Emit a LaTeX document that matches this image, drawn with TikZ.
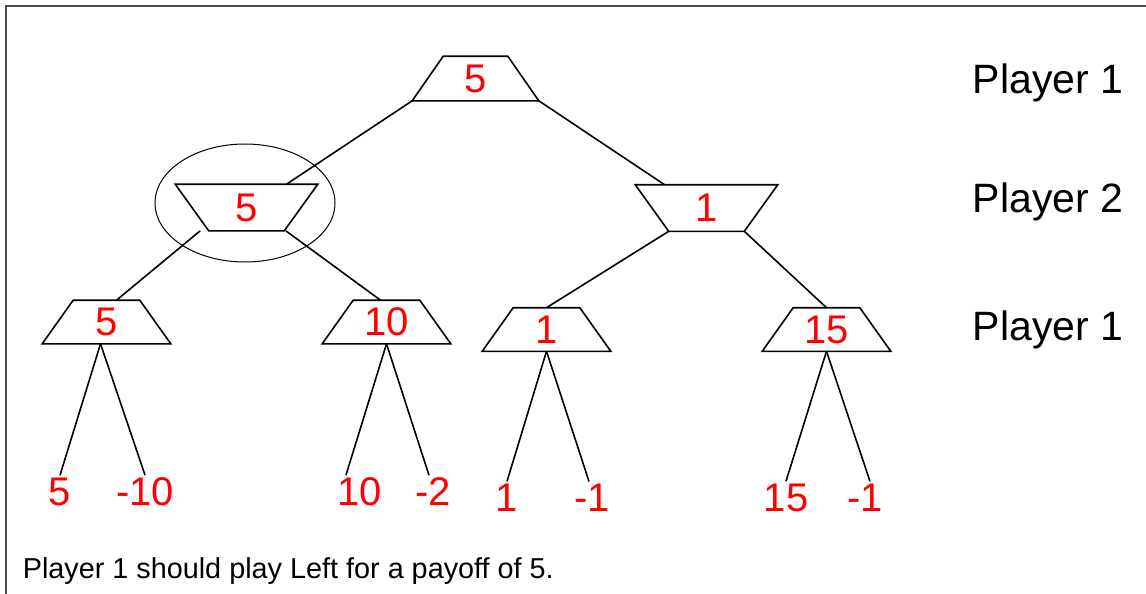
\documentclass[tikz,border=0pt]{standalone}
\usepackage{fontspec}
\setmainfont{Liberation Sans}
\usepackage{xcolor}

\begin{document}
\begin{tikzpicture}[x=0.5pt, y=-0.5pt, line width=0.8pt,
  maxnode/.style={minimum width=63.5pt, minimum height=21pt,
    inner sep=0pt, text=red, font=\fontsize{20}{24}\selectfont},
  minnode/.style={maxnode, minimum width=70.5pt, minimum height=22.5pt},
  payoff/.style={inner sep=1pt, text=red, font=\fontsize{20}{24}\selectfont},
  player/.style={anchor=base west, inner sep=0pt, font=\fontsize{20.5}{24}\selectfont}]

\useasboundingbox (0,0) rectangle (1146,594);

% Frame
\draw[black!70] (1146,6) -- (6,6) -- (6,594);

\node[maxnode, minimum width=62.5pt, minimum height=21.5pt] (root) at (475.5,78.5) {5};

\node[minnode] (p2l) at (246.5,207.5) {5};
\node[minnode] (p2r) at (706.5,208) {1};

\node[maxnode] (a) at (106.5,322) {5};
\node[maxnode] (b) at (386.5,322) {10};
\node[maxnode] (c) at (546.5,329.5) {1};
\node[maxnode] (d) at (826.5,329.5) {15};

% Trapezoids: narrow top for player 1, narrow bottom for player 2
\foreach \n in {root,a,b,c,d}
  \draw (\n.south west) -- ([xshift=15.5pt]\n.north west)
    -- ([xshift=-15.5pt]\n.north east) -- (\n.south east) -- cycle;
\foreach \n in {p2l,p2r}
  \draw (\n.north west) -- ([xshift=16.75pt]\n.south west)
    -- ([xshift=-16.75pt]\n.south east) -- (\n.north east) -- cycle;

% Payoffs
\node[payoff] (a1) at (60,492) {5};
\node[payoff] (a2) at (145,492) {-10};
\node[payoff] (b1) at (360,492) {10};
\node[payoff] (b2) at (433,492) {-2};
\node[payoff] (c1) at (507,498) {1};
\node[payoff] (c2) at (592,498) {-1};
\node[payoff] (d1) at (786,498) {15};
\node[payoff] (d2) at (865,498) {-1};

\draw (root.south west) -- ([xshift=20pt]p2l.north);
\draw (root.south east) -- ([xshift=-21pt]p2r.north);
\draw ([xshift=12.5pt]p2l.south west) -- ([xshift=5pt]a.north);
\draw ([xshift=-16pt]p2l.south east) -- ([xshift=-3pt]b.north);
\draw ([xshift=16.75pt]p2r.south west) -- (c.north);
\draw ([xshift=-16.75pt]p2r.south east) -- (d.north);

\draw ([xshift=-3pt]a.south) -- (a1.north);
\draw ([xshift=-3pt]a.south) -- (a2.north);
\draw (b.south) -- ([xshift=-7pt]b1.north);
\draw (b.south) -- ([xshift=-2pt]b2.north);
\draw (c.south) -- (c1.north);
\draw (c.south) -- ([xshift=-1.5pt]c2.north);
\draw (d.south) -- (d1.north);
\draw (d.south) -- ([xshift=2.5pt]d2.north);

% Chosen move
\draw[line width=0.5pt] ([shift={(-0.75pt,2.25pt)}]p2l.center) ellipse (45pt and 29.5pt);

\node[player] (lvl1) at (972,93) {Player 1};
\node[player] (lvl2) at (972,212) {Player 2};
\node[player] (lvl3) at (972,340) {Player 1};

\node[anchor=base west, inner sep=0pt, font=\fontsize{14.4}{17}\selectfont] (note)
  at (22,578) {Player 1 should play Left for a payoff of 5.};

\end{tikzpicture}
\end{document}
